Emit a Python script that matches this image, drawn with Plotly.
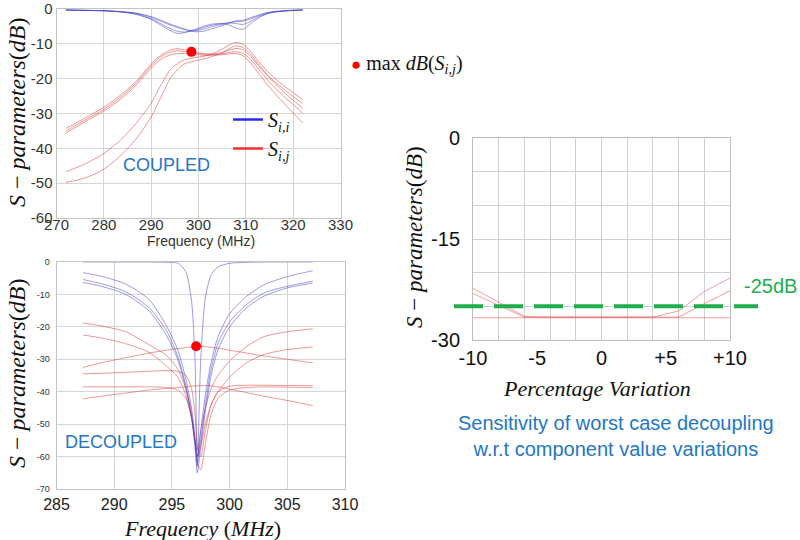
import plotly.graph_objects as go

# ---------------- DATA ----------------
# Panel 1: coupled
F1 = [272, 276, 280, 284, 287, 290, 292, 294, 295.5, 297, 299, 301, 303, 305, 306.5, 308, 309.5, 311, 313, 315, 318, 322]
C_SII_1 = [-0.3, -0.4, -0.5, -0.9, -1.6, -3.0, -4.6, -6.2, -7.0, -6.8, -6.0, -5.0, -4.3, -4.2, -4.6, -5.5, -5.8, -4.2, -2.3, -1.2, -0.6, -0.3]
C_SII_2 = [-0.3, -0.4, -0.5, -0.9, -1.5, -2.8, -4.2, -5.6, -6.4, -6.6, -6.2, -5.3, -4.6, -4.2, -4.0, -4.2, -4.4, -3.5, -2.1, -1.1, -0.6, -0.3]
C_SII_3 = [-0.3, -0.4, -0.5, -0.8, -1.3, -2.4, -3.5, -4.6, -5.3, -5.9, -6.3, -5.8, -5.0, -4.4, -3.9, -3.6, -3.5, -2.8, -1.8, -1.0, -0.5, -0.3]
C_SII_4 = [-0.3, -0.4, -0.5, -0.8, -1.2, -2.2, -3.2, -4.3, -5.0, -5.7, -6.5, -6.4, -5.6, -4.8, -4.0, -3.4, -3.2, -2.5, -1.6, -0.9, -0.5, -0.3]
C_SIJ_1 = [-34.3, -31.3, -28.2, -24.2, -20.5, -15.8, -13.3, -11.8, -11.4, -11.7, -12.3, -12.8, -12.9, -12.5, -11.8, -11.3, -11.8, -13.6, -16.8, -19.8, -23.8, -28.4]
C_SIJ_2 = [-35.0, -31.9, -28.8, -24.8, -21.0, -16.3, -13.8, -12.4, -12.0, -12.2, -12.6, -13.0, -13.1, -12.9, -12.5, -12.3, -12.8, -14.5, -17.8, -21.0, -25.0, -29.9]
C_SIJ_3 = [-35.6, -32.4, -29.3, -25.4, -21.6, -17.0, -14.5, -13.2, -12.8, -12.8, -13.0, -13.3, -13.3, -13.1, -12.9, -12.8, -13.5, -15.5, -19.0, -22.5, -27.0, -32.7]
C_SIJ_4 = [-46.7, -44.5, -41.5, -37.0, -32.5, -27.0, -22.0, -17.5, -15.8, -14.6, -14.0, -13.6, -12.8, -11.5, -10.3, -9.6, -10.2, -12.2, -15.5, -18.5, -22.0, -26.0]
C_SIJ_5 = [-49.8, -48.5, -46.0, -41.5, -37.0, -31.0, -25.5, -20.0, -17.5, -15.8, -15.0, -14.4, -13.6, -12.6, -11.4, -10.6, -11.1, -13.0, -16.3, -19.5, -23.0, -27.2]
C_MAX_F = [298.5]
C_MAX_DB = [-12.3]
P1_XTICKS = [270, 280, 290, 300, 310, 320, 330]
P1_XTEXT = ["270", "280", "290", "300", "310", "320", "330"]
P1_YTICKS = [0, -10, -20, -30, -40, -50, -60]
P1_YTEXT = ["0", "-10", "-20", "-30", "-40", "-50", "-60"]

# Panel 2: decoupled
F2 = [287.3, 289, 291, 293, 294.5, 295.5, 296.2, 296.7, 297.0, 297.2, 297.5, 297.9, 298.4, 299, 300, 301.5, 303, 305, 307.2]
D_SII_1 = [-3.3, -4.5, -6.8, -11.5, -19.5, -27.0, -36.0, -45.0, -54.0, -62.0, -52.0, -41.0, -31.0, -23.0, -16.0, -10.5, -7.0, -4.5, -2.7]
D_SII_2 = [-5.4, -6.8, -9.2, -14.0, -21.0, -29.0, -38.0, -47.0, -56.0, -60.0, -55.0, -44.0, -33.0, -25.0, -18.5, -13.0, -9.5, -7.5, -5.9]
D_SII_3 = [-6.3, -7.6, -10.0, -15.0, -22.5, -30.0, -39.0, -48.0, -57.0, -65.0, -57.0, -46.0, -35.0, -27.0, -20.0, -14.0, -10.5, -8.0, -6.5]
D_SII_4 = [0.0, 0.0, 0.0, 0.0, -0.1, -0.3, -3.0, -12.0, -30.0, -63.0, -30.0, -11.0, -4.0, -1.5, -0.4, -0.1, 0.0, 0.0, 0.0]
D_SIJ_1 = [-18.8, -19.8, -21.5, -25.5, -28.7, -33.0, -39.0, -47.0, -55.0, -58.0, -52.0, -45.0, -39.0, -35.0, -30.5, -26.0, -23.0, -21.5, -20.6]
D_SIJ_2 = [-22.5, -23.5, -25.2, -27.8, -32.0, -35.5, -41.0, -48.0, -55.0, -60.0, -57.0, -50.0, -44.0, -40.0, -35.5, -31.0, -28.5, -27.0, -26.2]
D_SIJ_3 = [-32.5, -31.0, -29.5, -28.1, -27.2, -26.7, -26.4, -26.2, -26.1, -26.0, -26.0, -26.1, -26.3, -26.6, -27.2, -28.1, -29.0, -30.0, -31.1]
D_SIJ_4 = [-34.5, -34.3, -34.0, -33.7, -33.5, -33.7, -35.0, -39.0, -47.0, -56.0, -60.0, -52.0, -44.0, -40.0, -38.3, -38.0, -38.0, -38.1, -38.1]
D_SIJ_5 = [-38.5, -38.5, -38.5, -38.5, -38.7, -39.5, -42.0, -48.0, -55.0, -62.0, -64.0, -56.0, -47.0, -42.0, -39.5, -38.7, -38.5, -38.6, -38.7]
D_SIJ_6 = [-42.2, -41.3, -40.4, -39.5, -39.0, -38.7, -38.5, -38.3, -38.2, -38.2, -38.1, -38.1, -38.2, -38.5, -39.2, -40.3, -41.4, -42.7, -44.3]
D_MAX_F = [297.1]
D_MAX_DB = [-26.0]
P2_XTICKS = [285, 290, 295, 300, 305, 310]
P2_XTEXT = ["285", "290", "295", "300", "305", "310"]
P2_YTICKS = [0, -10, -20, -30, -40, -50, -60, -70]
P2_YTEXT = ["0", "-10", "-20", "-30", "-40", "-50", "-60", "-70"]

# Panel 3: sensitivity
VAR = [-10, -8, -6, -4, -2, 0, 2, 4, 6, 8, 10]
SENS_1 = [-22.3, -24.4, -26.5, -26.6, -26.6, -26.6, -26.6, -26.6, -25.7, -22.8, -20.8]
SENS_2 = [-23.1, -24.9, -26.6, -26.6, -26.6, -26.6, -26.6, -26.6, -26.6, -24.6, -22.7]
SENS_3 = [-26.7, -26.7, -26.7, -26.7, -26.7, -26.7, -26.7, -26.7, -26.7, -26.7, -26.7]
THRESH = -25
P3_XTICKS = [-10, -5, 0, 5, 10]
P3_XTEXT = ["-10", "-5", "0", "+5", "+10"]
P3_YTICKS = [0, -15, -30]
P3_YTEXT = ["0", "-15", "-30"]

# ---------------- STYLE ----------------
W, H = 800, 540
BLUE_L = "rgba(60,60,200,0.5)"
RED_L = "rgba(220,50,50,0.5)"
RED_L3 = "rgba(230,80,80,0.55)"
TXT_BLUE = "#2477c4"
GREEN = "#1fae4b"
SANS = "Liberation Sans, Arial, sans-serif"
SERIF = "Liberation Serif, Times New Roman, serif"

def px(x):
    return x / W

def py(y):
    return 1 - y / H

fig = go.Figure()

# panel 1
for ys in [C_SIJ_1, C_SIJ_2, C_SIJ_3, C_SIJ_4, C_SIJ_5]:
    fig.add_trace(go.Scatter(x=F1, y=ys, mode="lines", line=dict(color=RED_L, width=1, shape="spline", smoothing=0.8),
                             xaxis="x", yaxis="y", showlegend=False, hoverinfo="skip"))
for ys in [C_SII_1, C_SII_2, C_SII_3, C_SII_4]:
    fig.add_trace(go.Scatter(x=F1, y=ys, mode="lines", line=dict(color=BLUE_L, width=1, shape="spline", smoothing=0.8),
                             xaxis="x", yaxis="y", showlegend=False, hoverinfo="skip"))
fig.add_trace(go.Scatter(x=C_MAX_F, y=C_MAX_DB, mode="markers", marker=dict(color="red", size=10),
                         xaxis="x", yaxis="y", showlegend=False))
# legend entries
fig.add_trace(go.Scatter(x=[None], y=[None], mode="lines", line=dict(color="#2a2af0", width=2.5),
                         name="<i>S</i><sub><i>i,i</i></sub>", xaxis="x", yaxis="y"))
fig.add_trace(go.Scatter(x=[None], y=[None], mode="lines", line=dict(color="#f03030", width=2.5),
                         name="<i>S</i><sub><i>i,j</i></sub>", xaxis="x", yaxis="y"))

# panel 2
for ys in [D_SIJ_1, D_SIJ_2, D_SIJ_3, D_SIJ_4, D_SIJ_5, D_SIJ_6]:
    fig.add_trace(go.Scatter(x=F2, y=ys, mode="lines", line=dict(color=RED_L, width=1, shape="spline", smoothing=0.7),
                             xaxis="x2", yaxis="y2", showlegend=False, hoverinfo="skip"))
for ys in [D_SII_1, D_SII_2, D_SII_3, D_SII_4]:
    fig.add_trace(go.Scatter(x=F2, y=ys, mode="lines", line=dict(color=BLUE_L, width=1, shape="spline", smoothing=0.7),
                             xaxis="x2", yaxis="y2", showlegend=False, hoverinfo="skip"))
fig.add_trace(go.Scatter(x=D_MAX_F, y=D_MAX_DB, mode="markers", marker=dict(color="red", size=10),
                         xaxis="x2", yaxis="y2", showlegend=False))

# panel 3 (grid axis x3, labelled overlay axis x4)
fig.add_trace(go.Scatter(x=VAR, y=SENS_3, mode="lines", line=dict(color=RED_L3, width=1),
                         xaxis="x3", yaxis="y3", showlegend=False, hoverinfo="skip"))
for ys in [SENS_2, SENS_1]:
    fig.add_trace(go.Scatter(x=VAR, y=ys, mode="lines", line=dict(color=RED_L3, width=1),
                             xaxis="x4", yaxis="y3", showlegend=False, hoverinfo="skip"))
fig.add_trace(go.Scatter(x=[0, 1], y=[THRESH, THRESH], mode="lines",
                         line=dict(color=GREEN, width=4, dash="29px,11px"),
                         xaxis="x5", yaxis="y5", showlegend=False, hoverinfo="skip"))

grid1 = "#d6d6d6"
ax_common = dict(showline=True, mirror=True, linecolor="#c4c4c4", gridcolor=grid1, zeroline=False,
                 ticks="", ticklen=0, automargin=False)

fig.update_layout(
    width=W, height=H, margin=dict(l=0, r=0, t=0, b=0, autoexpand=False),
    paper_bgcolor="white", plot_bgcolor="rgba(0,0,0,0)",
    xaxis=dict(domain=[px(56.5), px(340.5)], range=[270, 330], anchor="y", tickvals=P1_XTICKS, ticktext=P1_XTEXT,
               tickfont=dict(family=SANS, size=15, color="#333"), ticklabelstandoff=-7, **ax_common),
    yaxis=dict(domain=[py(218), py(9)], range=[-60, 0], anchor="x", tickvals=P1_YTICKS, ticktext=P1_YTEXT,
               tickfont=dict(family=SANS, size=15, color="#333"), **ax_common),
    xaxis2=dict(domain=[px(56.5), px(345)], range=[285, 310], anchor="y2", tickvals=P2_XTICKS, ticktext=P2_XTEXT,
                tickfont=dict(family=SANS, size=16, color="#222"), ticklabelstandoff=1, **ax_common),
    yaxis2=dict(domain=[py(489), py(262)], range=[-70, 0], anchor="x2", tickvals=P2_YTICKS, ticktext=P2_YTEXT,
                tickfont=dict(family=SANS, size=9, color="#333"), ticklabelstandoff=4, **ax_common),
    xaxis3=dict(domain=[px(473), px(730)], range=[-10, 10], anchor="y3", dtick=2, tick0=-10,
                showticklabels=False, showline=True, mirror=True, linecolor="#bdbdbd",
                gridcolor="#cfcfcf", zeroline=False, ticks="", automargin=False),
    xaxis4=dict(overlaying="x3", range=[-10, 10], anchor="y3", tickvals=P3_XTICKS, ticktext=P3_XTEXT,
                showgrid=False, zeroline=False, showline=False, ticks="", ticklen=0, automargin=False,
                tickfont=dict(family=SANS, size=20, color="#111"), ticklabelstandoff=4),
    yaxis3=dict(domain=[py(340), py(138)], range=[-30, 0], anchor="x3", tickvals=P3_YTICKS, ticktext=P3_YTEXT,
                minor=dict(dtick=5, tick0=0, showgrid=True, gridcolor="#cfcfcf"),
                showline=True, mirror=True, linecolor="#bdbdbd", gridcolor="#cfcfcf", zeroline=False, ticks="",
                ticklen=0, automargin=False,
                tickfont=dict(family=SANS, size=20, color="#111"), ticklabelstandoff=8),
    xaxis5=dict(domain=[px(454), px(758)], range=[0, 1], anchor="y5", visible=False, automargin=False),
    yaxis5=dict(domain=[py(340), py(138)], range=[-30, 0], anchor="x5", visible=False, automargin=False),
    legend=dict(x=px(228), y=py(100), xanchor="left", yanchor="top", bgcolor="rgba(0,0,0,0)",
                font=dict(family=SERIF, size=20, color="#111"), tracegroupgap=0, itemwidth=30),
    showlegend=True,
)

ytitle = "<i>S</i> − <i>parameters</i>(<i>dB</i>)"
ann = [
    dict(text=ytitle, x=px(17), y=py(112), textangle=-90, font=dict(family=SERIF, size=24, color="#111")),
    dict(text="Frequency (MHz)", x=px(201), y=py(241), font=dict(family=SANS, size=14, color="#333")),
    dict(text=ytitle, x=px(17), y=py(373), textangle=-90, font=dict(family=SERIF, size=24, color="#111")),
    dict(text="<i>Frequency</i> (<i>MHz</i>)", x=px(202), y=py(528), font=dict(family=SERIF, size=22, color="#111")),
    dict(text=ytitle, x=px(414), y=py(237), textangle=-90, font=dict(family=SERIF, size=23, color="#111")),
    dict(text="<i>Percentage Variation</i>", x=px(597), y=py(388), font=dict(family=SERIF, size=22, color="#111")),
    dict(text="Sensitivity of worst case decoupling<br>w.r.t component value variations", x=px(616), y=py(436),
         font=dict(family=SANS, size=20, color=TXT_BLUE)),
    dict(text="COUPLED", x=px(166), y=py(165), font=dict(family=SANS, size=18, color=TXT_BLUE)),
    dict(text="DECOUPLED", x=px(121), y=py(442), font=dict(family=SANS, size=18, color=TXT_BLUE)),
    dict(text="<span style='color:red;font-size:17px'>●</span> max <i>dB</i>(<i>S</i><sub><i>i,j</i></sub>)",
         x=px(349), y=py(65), xanchor="left", font=dict(family=SERIF, size=20, color="#111")),
    dict(text="-25dB", x=px(770), y=py(286), font=dict(family=SANS, size=20, color=GREEN)),
]
for a in ann:
    a.update(xref="paper", yref="paper", showarrow=False)
    a.setdefault("xanchor", "center")
    a.setdefault("yanchor", "middle")
fig.update_layout(annotations=ann)

fig.write_html("out.html", config={"displayModeBar": False},
               post_script="document.body.style.margin='0px';")
